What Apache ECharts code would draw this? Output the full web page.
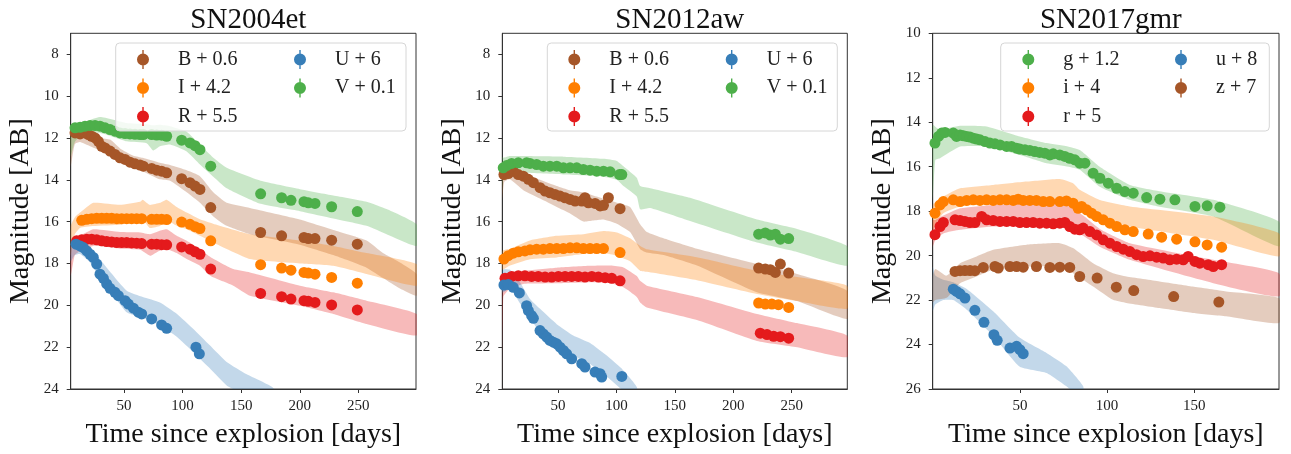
<!DOCTYPE html>
<html>
<head>
<meta charset="utf-8">
<script src="https://cdn.jsdelivr.net/npm/echarts@6.0.0/dist/echarts.min.js"></script>
<style>
  html, body { margin: 0; padding: 0; background: #fff; }
  #main { width: 1291px; height: 454px; }
</style>
</head>
<body>
<div id="main"></div>
<script>
// ---- SN2004et : points [day, mag] ----
const sn04_B = [[8.2,11.76],[12.5,11.81],[16.7,11.76],[19.6,11.84],[22.4,11.92],[25.3,12.0],[28.1,12.16],[31.0,12.40],[33.8,12.48],[38.1,12.63],[42.3,12.79],[46.6,12.95],[50.9,13.03],[55.1,13.16],[59.4,13.24],[63.7,13.30],[66.5,13.35],[73.6,13.46],[77.9,13.54],[82.1,13.59],[86.4,13.67],[99.2,13.95],[106.3,14.14],[110.6,14.30],[114.8,14.46],[124.0,15.33],[166.6,16.52],[184.5,16.68],[203.6,16.76],[207.3,16.81],[213.0,16.81],[227.2,16.89],[249.1,17.08]];
const sn04_I = [[13.9,15.94],[18.2,15.89],[22.4,15.86],[26.7,15.84],[31.0,15.84],[35.2,15.84],[39.5,15.84],[43.8,15.86],[48.0,15.86],[52.3,15.86],[56.5,15.86],[60.8,15.86],[65.1,15.86],[73.6,15.89],[77.9,15.89],[82.1,15.89],[86.4,15.90],[99.2,16.02],[106.3,16.13],[110.6,16.24],[114.8,16.33],[124.0,16.92],[166.6,18.06],[184.5,18.22],[192.5,18.32],[203.6,18.43],[207.3,18.46],[213.0,18.51],[227.2,18.67],[249.1,18.94]];
const sn04_R = [[9.6,16.92],[13.9,16.87],[18.2,16.84],[22.4,16.84],[26.7,16.87],[31.0,16.92],[35.2,16.95],[39.5,16.97],[43.8,17.0],[48.0,17.0],[52.3,17.0],[56.5,17.02],[60.8,17.03],[65.1,17.05],[73.6,17.08],[77.9,17.08],[82.1,17.10],[86.4,17.11],[99.2,17.21],[106.3,17.32],[110.6,17.44],[114.8,17.56],[124.0,18.27],[166.6,19.43],[184.5,19.59],[192.5,19.70],[203.6,19.78],[207.3,19.81],[213.0,19.86],[227.2,19.98],[249.1,20.22]];
const sn04_U = [[9.05,17.08],[12.5,17.16],[15.3,17.24],[18.2,17.40],[21.0,17.56],[23.8,17.71],[26.7,18.03],[29.5,18.51],[32.4,18.71],[35.2,18.98],[38.1,19.19],[42.3,19.38],[45.2,19.54],[50.9,19.78],[53.7,19.94],[58.0,20.14],[62.2,20.33],[65.1,20.41],[73.6,20.65],[82.1,20.94],[86.4,21.10],[111.4,22.0],[114.3,22.32]];
const sn04_V = [[8.2,11.52],[12.5,11.49],[16.7,11.44],[21.0,11.41],[25.3,11.41],[29.5,11.44],[33.8,11.52],[38.1,11.60],[42.3,11.68],[46.6,11.76],[50.9,11.79],[55.1,11.81],[59.4,11.83],[63.7,11.84],[66.5,11.84],[73.6,11.84],[77.9,11.86],[82.1,11.87],[86.4,11.92],[99.2,12.11],[106.3,12.24],[110.6,12.37],[114.8,12.56],[124.0,13.35],[166.6,14.67],[184.5,14.86],[192.5,14.98],[203.6,15.05],[207.3,15.10],[213.0,15.13],[227.2,15.29],[249.1,15.52]];
// model bands [day, bright edge, faint edge]
const sn04_B_band = [[4.5,11.4,13.35],[8,11.6,12.3],[12.5,11.65,12.2],[21,11.8,12.4],[29.5,12.0,12.6],[38.1,12.08,12.79],[46.6,12.5,13.15],[58,12.85,13.45],[66,12.95,13.6],[80.7,13.19,13.98],[89.3,13.3,14.05],[103.5,13.55,14.6],[114.8,13.83,15.1],[126.2,14.6,15.75],[137.6,15.1,16.2],[157.5,15.35,16.6],[200,15.9,17.1],[228.6,16.4,17.6],[257,16.9,18.2],[271,17.5,18.7],[285.5,17.95,19.2],[299.7,18.51,19.54]];
const sn04_I_band = [[4.5,16.2,17.63],[8,15.8,16.6],[12.5,15.57,16.3],[23.8,15.1,16.21],[46.6,15.2,16.15],[63.7,15.05,15.95],[66,14.95,15.9],[72,15.2,16.3],[80.7,15.1,16.21],[86.4,14.95,15.95],[95,15.3,16.2],[103.5,15.57,16.37],[114.8,15.89,16.68],[126,16.1,17.0],[157.5,16.6,17.79],[200,16.9,18.0],[228.6,17.16,18.11],[257,17.5,18.5],[299.7,18.03,19.06]];
const sn04_R_band = [[4.5,17.1,18.6],[8,16.8,17.6],[12.5,16.68,17.40],[23.8,16.37,17.16],[46.6,16.5,17.3],[63.7,16.52,17.35],[72.2,16.6,17.63],[80,16.45,17.4],[86.4,16.37,17.32],[95,16.68,17.5],[103.5,16.92,17.79],[114.8,17.32,18.11],[124,17.7,18.6],[143.3,18.27,19.06],[157.5,18.43,19.54],[200.2,19.06,20.02],[228.6,19.38,20.41],[257,19.78,20.89],[299.7,20.41,21.44]];
const sn04_U_band = [[4.5,16.9,17.9],[8,16.8,17.6],[12.5,16.92,17.55],[21,17.25,17.95],[29.5,17.8,18.7],[38.1,18.4,19.3],[52.3,19.3,20.33],[66,19.6,20.6],[80.7,19.86,20.97],[95,20.4,21.5],[109.2,21.13,22.24],[123,21.9,23.0],[137.6,22.71,23.83],[154.7,23.3,24.3],[177.4,23.95,24.6]];
const sn04_V_band = [[4.5,11.68,12.87],[8,11.4,12.2],[12.5,11.32,11.92],[29.5,11.0,11.76],[52.3,11.29,12.16],[69.3,11.35,12.25],[75,11.4,12.6],[80.7,11.37,12.4],[89.3,11.44,12.32],[103.5,11.7,12.65],[114.8,12.32,13.27],[126.2,12.95,13.85],[137.6,13.43,14.4],[166.6,14.05,15.15],[200.2,14.45,15.5],[228.6,14.75,15.85],[257,15.05,16.2],[274.1,15.4,16.6],[299.7,16.13,17.16]];

// ---- SN2012aw ----
const sn12_B = [[3.7,13.75],[7.4,13.70],[11.7,13.59],[16.0,13.75],[20.3,13.83],[24.6,13.98],[28.9,14.14],[34.6,14.38],[38.9,14.54],[43.1,14.62],[47.4,14.70],[51.7,14.78],[56.0,14.86],[60.3,14.94],[64.6,15.02],[70.3,15.02],[73.1,14.86],[76.0,15.10],[81.7,15.13],[86.0,15.25],[88.9,15.22],[93.1,14.86],[103.1,15.38],[221.7,18.22],[227.4,18.27],[231.7,18.30],[236.0,18.43],[240.3,18.03],[247.4,18.46]];
const sn12_I = [[3.7,17.79],[7.4,17.63],[11.7,17.51],[16.0,17.44],[21.7,17.40],[26.0,17.35],[31.7,17.32],[37.4,17.32],[43.1,17.29],[48.9,17.29],[54.6,17.29],[60.3,17.25],[66.0,17.25],[71.7,17.29],[77.4,17.29],[83.1,17.29],[88.9,17.29],[103.1,17.48],[221.7,19.89],[227.4,19.94],[233.0,19.94],[238.6,19.97],[247.4,20.10]];
const sn12_R = [[4.6,18.71],[10.3,18.62],[16.0,18.59],[21.7,18.59],[27.4,18.62],[33.1,18.62],[38.9,18.65],[44.6,18.65],[50.3,18.62],[56.0,18.62],[61.7,18.62],[67.4,18.62],[73.1,18.65],[78.9,18.62],[84.6,18.65],[90.3,18.68],[96.0,18.71],[103.1,18.83],[223.1,21.33],[228.9,21.40],[234.6,21.48],[240.3,21.50],[247.4,21.57]];
const sn12_U = [[3.7,19.03],[7.4,19.0],[11.7,19.14],[16.9,19.41],[23.1,20.02],[24.6,20.25],[27.4,20.49],[28.9,20.62],[34.6,21.21],[37.4,21.37],[40.3,21.52],[43.1,21.68],[46.0,21.76],[48.9,21.84],[51.7,22.0],[54.6,22.16],[57.4,22.32],[61.7,22.56],[70.3,22.79],[73.1,22.95],[81.7,23.19],[86.0,23.27],[87.4,23.43],[104.6,23.40]];
const sn12_V = [[3.1,13.43],[6.0,13.32],[10.3,13.22],[16.0,13.19],[23.1,13.19],[26.0,13.22],[31.7,13.27],[37.4,13.35],[43.1,13.35],[48.9,13.35],[54.6,13.43],[60.3,13.43],[66.0,13.43],[71.7,13.51],[77.4,13.54],[83.1,13.59],[88.9,13.59],[94.6,13.62],[102.6,13.75],[104.6,13.75],[221.7,16.60],[227.4,16.54],[231.7,16.64],[236.0,16.60],[240.3,16.84],[247.4,16.81]];
const sn12_B_band = [[2.3,13.3,14.94],[4,13.45,14.1],[8.9,13.43,13.98],[20.3,13.7,14.5],[34.6,14.0,14.9],[48.9,14.3,15.3],[60,14.5,15.6],[71.7,14.6,16.0],[80,14.75,15.95],[88.9,14.9,15.9],[100.3,15.1,16.1],[111.7,15.3,16.5],[120.3,16.13,17.32],[126,16.5,17.48],[140.3,16.8,17.6],[168.9,17.3,18.1],[220.3,18.03,19.38],[254.6,18.5,19.8],[297.4,19.3,20.65]];
const sn12_I_band = [[2.3,17.4,18.3],[8.9,17.3,18.1],[26,16.9,17.8],[48.9,16.68,17.71],[71.7,16.6,17.55],[88.9,16.45,17.5],[100.3,16.52,17.63],[111.7,16.8,17.9],[120.3,17.16,18.35],[126,17.32,18.4],[168.9,17.7,18.8],[220.3,18.35,19.46],[254.6,18.65,19.8],[297.4,19.06,20.17]];
const sn12_R_band = [[2.3,18.5,24.2],[3.2,18.6,19.6],[8.9,18.4,19.2],[20.3,18.35,18.98],[48.9,18.2,18.95],[77.4,18.11,18.9],[95,18.1,18.95],[106,18.19,19.14],[117.4,18.6,19.6],[120.3,18.83,19.86],[126,19.06,20.1],[168.9,19.6,20.7],[220.3,20.41,21.7],[254.6,20.85,22.0],[297.4,21.44,22.48]];
const sn12_U_band = [[2.3,18.3,19.4],[8.9,18.3,19.2],[17.4,18.9,19.9],[26,19.7,20.6],[34.6,20.17,21.3],[48.9,20.9,21.8],[63,21.44,22.4],[77.4,21.8,22.8],[91.7,22.4,23.4],[104,23.0,24.0],[117.4,23.9,24.6]];
const sn12_V_band = [[2.3,12.9,14.6],[3.5,12.95,13.6],[8.9,12.87,13.6],[20.3,12.87,13.67],[54.6,12.9,13.75],[88.9,13.0,13.85],[100.3,13.1,14.0],[106,13.35,14.3],[117.4,13.9,14.8],[120.3,14.3,15.41],[128.9,14.4,15.35],[163,14.86,15.97],[220.3,15.9,17.0],[254.6,16.35,17.45],[297.4,17.16,18.11]];

// ---- SN2017gmr ----
const sn17_g = [[1.3,14.94],[3.3,14.64],[5.2,14.49],[7.1,14.46],[11.8,14.49],[13.7,14.64],[15.7,14.57],[17.6,14.61],[19.5,14.64],[21.4,14.67],[23.3,14.72],[25.2,14.76],[27.1,14.79],[30.0,14.87],[32.8,14.94],[35.7,14.97],[38.6,15.02],[42.4,15.09],[45.2,15.09],[48.1,15.17],[50.0,15.21],[52.9,15.24],[55.7,15.27],[58.6,15.32],[61.4,15.36],[64.3,15.39],[67.2,15.47],[69.1,15.42],[72.9,15.47],[75.8,15.54],[78.6,15.62],[81.5,15.69],[84.3,15.84],[87.3,15.84],[92.0,16.29],[95.9,16.52],[100.7,16.74],[105.5,16.97],[110.2,17.12],[115.0,17.19],[122.7,17.39],[130.3,17.46],[138.9,17.49],[150.4,17.79],[157.4,17.76],[164.7,17.82]];
const sn17_i = [[1.3,18.09],[4.2,17.72],[6.1,17.57],[11.8,17.49],[15.7,17.57],[19.5,17.52],[23.3,17.49],[27.1,17.52],[30.9,17.49],[34.7,17.52],[38.6,17.49],[42.4,17.49],[46.2,17.52],[49.0,17.46],[51.9,17.52],[55.7,17.52],[59.5,17.52],[63.4,17.57],[67.2,17.57],[72.9,17.57],[76.7,17.54],[80.5,17.64],[83.4,17.87],[85.4,17.79],[88.3,17.94],[91.1,18.09],[94.0,18.24],[97.8,18.39],[101.6,18.54],[105.5,18.69],[110.2,18.84],[115.0,18.92],[123.6,19.03],[131.3,19.17],[139.9,19.26],[150.4,19.38],[157.4,19.52],[165.7,19.62]];
const sn17_r = [[1.3,19.06],[4.2,18.69],[6.1,18.51],[12.8,18.39],[15.7,18.42],[18.5,18.46],[21.4,18.51],[24.2,18.51],[28.1,18.24],[30.9,18.39],[34.7,18.42],[38.6,18.46],[42.4,18.46],[46.2,18.46],[50.0,18.51],[53.8,18.51],[57.6,18.51],[61.4,18.54],[65.3,18.54],[69.1,18.57],[72.9,18.54],[75.8,18.51],[78.6,18.69],[81.5,18.81],[84.3,18.84],[86.3,18.76],[90.2,18.92],[94.0,19.07],[97.8,19.29],[101.6,19.44],[105.5,19.59],[109.3,19.71],[113.1,19.82],[116.9,19.96],[120.7,20.04],[124.6,20.01],[128.4,20.07],[132.2,20.11],[136.0,20.19],[139.9,20.16],[143.7,20.19],[146.5,20.04],[150.4,20.26],[153.2,20.34],[158.0,20.41],[160.9,20.49],[165.7,20.41]];
const sn17_u = [[11.8,21.51],[13.7,21.61],[15.7,21.72],[18.5,21.91],[24.2,22.46],[29.4,23.0],[35.1,23.56],[37.0,23.81],[44.3,24.16],[48.1,24.08],[50.0,24.23],[51.9,24.41]];
const sn17_u_err = [0.12,0.12,0.13,0.14,0.15,0.17,0.18,0.18,0.2,0.2,0.2,0.22];
const sn17_z = [[12.8,20.71],[15.7,20.68],[18.5,20.67],[21.4,20.67],[24.2,20.68],[29.0,20.53],[35.7,20.49],[37.6,20.56],[44.3,20.49],[48.1,20.49],[51.9,20.52],[59.5,20.49],[67.2,20.53],[72.9,20.52],[78.6,20.53],[84.3,20.94],[94.3,21.01],[105.3,21.42],[115.3,21.57],[138.2,21.84],[164.1,22.09]];
const sn17_g_band = [[0,14.12,17.5],[1.5,14.2,15.7],[4.2,14.34,15.62],[15.7,14.16,15.09],[30.9,14.19,15.09],[50,14.64,15.47],[65.3,14.94,15.84],[78,15.1,16.0],[84.4,15.25,16.14],[95.8,16.0,16.9],[113.1,16.82,17.49],[130,17.1,17.8],[160.9,17.49,18.24],[198.6,18.47,19.59]];
const sn17_i_band = [[0,17.7,18.9],[1.5,17.6,18.6],[6.1,17.34,18.09],[15.7,16.97,17.79],[34.7,16.82,17.64],[53.8,16.67,17.57],[72.9,16.55,17.49],[80.5,16.74,17.72],[84.4,17.04,17.9],[95.8,17.5,18.3],[113.1,17.79,18.69],[160.9,18.24,19.29],[198.6,18.99,20.04]];
const sn17_r_band = [[0,18.4,19.6],[1.5,18.4,19.3],[6.1,18.2,19.0],[15.7,17.87,18.84],[34.7,17.72,18.69],[53.8,17.67,18.69],[72.9,17.64,18.69],[80.5,17.87,18.84],[88,18.3,19.2],[95.8,18.8,19.6],[113.1,19.44,20.19],[160.9,20.19,21.24],[198.6,20.79,21.84]];
const sn17_u_band = [[0,20.5,22.5],[1.5,20.9,22.2],[6.1,21.09,22.0],[11.8,21.2,22.0],[19.5,21.5,22.43],[34.7,22.5,23.6],[50,23.7,25.0],[65.3,24.38,25.28],[76.7,24.98,25.88],[86.3,25.88,26.5]];
const sn17_z_band = [[0,20.9,22.1],[1.5,20.6,22.0],[8,20.9,21.9],[15.7,20.34,21.24],[25.2,20.04,20.94],[34.7,19.74,20.64],[53.8,19.51,20.49],[72.9,19.44,20.49],[80.5,19.66,20.79],[92,20.34,21.39],[103.4,20.79,21.99],[111.1,20.94,22.13],[130.1,21.16,22.36],[149.2,21.39,22.58],[168.3,21.61,22.73],[198.6,21.91,23.03]];

// ticks
const xTicks_04 = [50,100,150,200,250];
const xTicks_12 = [50,100,150,200,250];
const xTicks_17 = [50,100,150];
const yTicks_04 = [8,10,12,14,16,18,20,22,24];
const yTicks_12 = [8,10,12,14,16,18,20,22,24];
const yTicks_17 = [10,12,14,16,18,20,22,24,26];

const FONT = 'Liberation Serif';
const C = {brown:'#a65628', orange:'#ff7f00', red:'#e41a1c', blue:'#377eb8', green:'#4daf4a'};
const ICON = 'path://M5.3,0H6.7V19H5.3Z M6,3.5A6,6 0 1 1 5.99,3.5Z';

const panels = [
  {title:'SN2004et', grid:{left:70.7, top:33.3, width:345.3, height:356}, x:[4.5,299.2], y:[7,24], xt:xTicks_04, yt:yTicks_04,
   box:[115.7,43,290.3,88], cols:[137,294],
   lines:[['B + 0.6',C.brown,sn04_B,sn04_B_band],['I + 4.2',C.orange,sn04_I,sn04_I_band],['R + 5.5',C.red,sn04_R,sn04_R_band],
          ['U + 6',C.blue,sn04_U,sn04_U_band],['V + 0.1',C.green,sn04_V,sn04_V_band]]},
  {title:'SN2012aw', grid:{left:502.3, top:33.3, width:345, height:356}, x:[2.3,297.6], y:[7,24], xt:xTicks_12, yt:yTicks_12,
   box:[547.3,43,290,88], cols:[568.3,725.7],
   lines:[['B + 0.6',C.brown,sn12_B,sn12_B_band],['I + 4.2',C.orange,sn12_I,sn12_I_band],['R + 5.5',C.red,sn12_R,sn12_R_band],
          ['U + 6',C.blue,sn12_U,sn12_U_band],['V + 0.1',C.green,sn12_V,sn12_V_band]]},
  {title:'SN2017gmr', grid:{left:932.7, top:33.3, width:346.3, height:356}, x:[0,198.6], y:[10,26], xt:xTicks_17, yt:yTicks_17,
   box:[1000.7,43,268.6,88], cols:[1022.3,1175],
   lines:[['g + 1.2',C.green,sn17_g,sn17_g_band],['i + 4',C.orange,sn17_i,sn17_i_band],['r + 5',C.red,sn17_r,sn17_r_band],
          ['u + 8',C.blue,sn17_u,sn17_u_band],['z + 7',C.brown,sn17_z,sn17_z_band]]}
];

function rgba(hex, a) {
  const n = parseInt(hex.slice(1), 16);
  return 'rgba(' + (n >> 16) + ',' + ((n >> 8) & 255) + ',' + (n & 255) + ',' + a + ')';
}

const bandSeries = (band, color, k) => ({
  type: 'custom', name: 'band' + k + color, xAxisIndex: k, yAxisIndex: k,
  clip: true, silent: true, z: 1, data: band,
  renderItem: (params, api) => {
    if (params.dataIndex !== 0) return null;
    const top = band.map(r => api.coord([r[0], r[1]]));
    const bot = band.map(r => api.coord([r[0], r[2]])).reverse();
    return {type: 'polygon', shape: {points: top.concat(bot), smooth: 0.15}, style: {fill: rgba(color, 0.3)}};
  }
});

const series = [], grid = [], xAxis = [], yAxis = [], legend = [], title = [], graphics = [];
panels.forEach((p, k) => {
  grid.push(Object.assign({show: true, borderColor: '#333', borderWidth: 1, backgroundColor: 'transparent'}, p.grid));
  const cx = p.grid.left + p.grid.width / 2;
  title.push({text: p.title, left: cx, top: 1, textAlign: 'center',
    textStyle: {fontFamily: FONT, fontSize: 29, fontWeight: 'normal', color: '#111'}});
  xAxis.push({type: 'value', gridIndex: k, min: p.x[0], max: p.x[1],
    splitLine: {show: false},
    axisLine: {show: true, lineStyle: {color: '#333'}},
    axisTick: {show: true, length: 4, lineStyle: {color: '#333'}, customValues: p.xt},
    axisLabel: {customValues: p.xt, fontFamily: FONT, fontSize: 15, color: '#222', margin: 10},
    name: 'Time since explosion [days]', nameLocation: 'middle', nameGap: 32,
    nameTextStyle: {fontFamily: FONT, fontSize: 28, color: '#111'}});
  yAxis.push({type: 'value', gridIndex: k, inverse: true, min: p.y[0], max: p.y[1],
    splitLine: {show: false},
    axisLine: {show: true, lineStyle: {color: '#333'}},
    axisTick: {show: true, length: 4, lineStyle: {color: '#333'}, customValues: p.yt},
    axisLabel: {customValues: p.yt, fontFamily: FONT, fontSize: 15, color: '#222', margin: 12},
    name: 'Magnitude [AB]', nameLocation: 'middle', nameGap: 36, nameRotate: 90,
    nameTextStyle: {fontFamily: FONT, fontSize: 28, color: '#111'}});
  p.lines.forEach(l => series.push(bandSeries(l[3], l[1], k)));
  p.lines.forEach(l => series.push({type: 'scatter', name: p.title + '|' + l[0], xAxisIndex: k, yAxisIndex: k,
    data: l[2], symbolSize: 11, itemStyle: {color: l[1], opacity: 1}, z: 3}));
  // legend: two columns
  [p.lines.slice(0, 3), p.lines.slice(3)].forEach((col, c) => legend.push({
    orient: 'vertical', left: p.cols[c], top: 49.5, itemGap: 8.5, padding: 0, z: 60,
    icon: ICON, itemWidth: 12, itemHeight: 19, selectedMode: false,
    data: col.map(l => p.title + '|' + l[0]),
    formatter: n => n.split('|')[1],
    textStyle: {fontFamily: FONT, fontSize: 20, color: '#222', padding: [0, 0, 0, 24]}
  }));
  graphics.push({type: 'rect', z: 50, shape: {x: p.box[0], y: p.box[1], width: p.box[2], height: p.box[3], r: 4},
    style: {fill: 'rgba(255,255,255,0.8)', stroke: '#d6d6d6', lineWidth: 1}});
});

// error bars for u in SN2017gmr
series.push({type: 'custom', xAxisIndex: 2, yAxisIndex: 2, silent: true, z: 3,
  data: sn17_u.map((d, i) => [d[0], d[1], sn17_u_err[i]]),
  renderItem: (params, api) => {
    const a = api.coord([api.value(0), api.value(1) - api.value(2)]);
    const b = api.coord([api.value(0), api.value(1) + api.value(2)]);
    return {type: 'line', shape: {x1: a[0], y1: a[1], x2: b[0], y2: b[1]}, style: {stroke: C.blue, lineWidth: 1.8}};
  }});

const chart = echarts.init(document.getElementById('main'));
chart.setOption({
  animation: false,
  backgroundColor: '#fff',
  title, grid, xAxis, yAxis, legend, series,
  graphic: {elements: graphics}
});
</script>
</body>
</html>
